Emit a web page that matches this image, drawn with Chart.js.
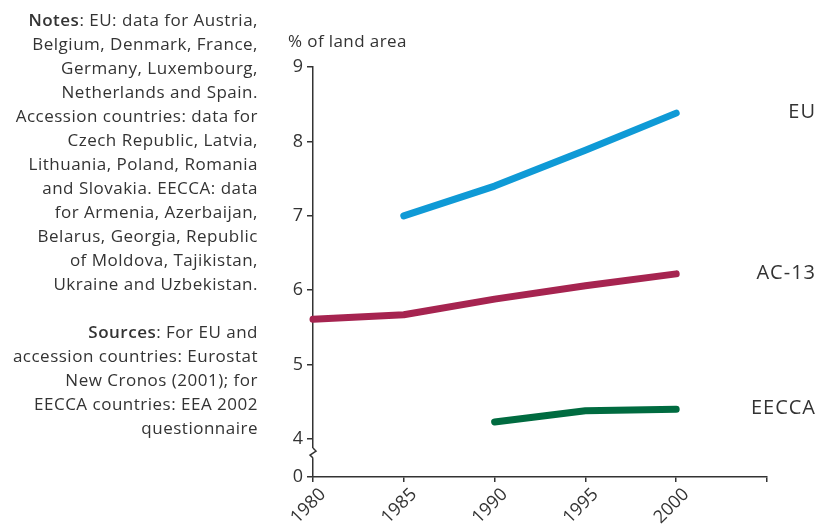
<!DOCTYPE html>
<html>
<head>
<meta charset="utf-8">
<script src="https://cdn.jsdelivr.net/npm/chart.js@4/dist/chart.umd.min.js"></script>
<style>
    body { margin: 0; background: #fff; }
    #wrap { position: relative; width: 818px; height: 524px; }
    #chart { position: absolute; left: 0; top: 0; }
    #notes {
        position: absolute; left: 0; top: 8px; width: 258px; white-space: nowrap;
        text-align: right; font: 17px "Open Sans", sans-serif; letter-spacing: 0.5px;
        line-height: 24px; color: #333;
    }
    #notes b { font-weight: 600; }
</style>
</head>
<body>
<div id="wrap">
    <canvas id="chart" width="818" height="524"></canvas>
    <div id="notes">
        <b>Notes</b>: EU: data for Austria,<br>
        Belgium, Denmark, France,<br>
        Germany, Luxembourg,<br>
        Netherlands and Spain.<br>
        Accession countries: data for<br>
        Czech Republic, Latvia,<br>
        Lithuania, Poland, Romania<br>
        and Slovakia. EECCA: data<br>
        for Armenia, Azerbaijan,<br>
        Belarus, Georgia, Republic<br>
        of Moldova, Tajikistan,<br>
        Ukraine and Uzbekistan.<br>
        <br>
        <b>Sources</b>: For EU and<br>
        accession countries: Eurostat<br>
        New Cronos (2001); for<br>
        EECCA countries: EEA 2002<br>
        questionnaire
    </div>
</div>
<script>
var years = [1980, 1985, 1990, 1995, 2000];
var euValues = [null, 7.0, 7.4, 7.88, 8.38];
var ac13Values = [5.61, 5.67, 5.88, 6.06, 6.22];
var eeccaValues = [null, null, 4.23, 4.38, 4.40];
var yTicks = [4, 5, 6, 7, 8, 9];
var ZERO_POS = 3.49; // where "0" sits below the axis break

var FONT = '"Open Sans", sans-serif';
var INK = '#333';

function points(values) {
    var out = [];
    for (var i = 0; i < years.length; i++) {
        if (values[i] !== null) out.push({ x: years[i], y: values[i] });
    }
    return out;
}

function series(label, values, color) {
    return {
        label: label,
        data: points(values),
        borderColor: color,
        borderWidth: 7,
        borderCapStyle: 'round',
        borderJoinStyle: 'round',
        pointRadius: 0,
        tension: 0,
        clip: false
    };
}

/* end labels, axis title and the axis break */
var decorations = {
    id: 'decorations',
    afterDraw: function (chart) {
        var ctx = chart.ctx;
        var y = chart.scales.y;
        ctx.save();

        ctx.fillStyle = INK;
        ctx.font = '17px ' + FONT;
        ctx.letterSpacing = '0.4px';
        ctx.textAlign = 'left';
        ctx.textBaseline = 'middle';
        ctx.fillText('% of land area', 288, 42);

        ctx.font = '20px ' + FONT;
        ctx.letterSpacing = '1px';
        ctx.textAlign = 'right';
        chart.data.datasets.forEach(function (ds, i) {
            var meta = chart.getDatasetMeta(i);
            var last = meta.data[meta.data.length - 1];
            ctx.fillText(ds.label, 816, last.y - 1);
        });
        ctx.letterSpacing = '0px';

        // zigzag break on the y axis
        var x = chart.chartArea.left;
        var top = y.getPixelForValue(4);
        var bottom = y.getPixelForValue(ZERO_POS);
        var mid = top + (bottom - top) * 0.37;
        ctx.fillStyle = '#fff';
        ctx.fillRect(x - 3, mid - 5, 6, 10);
        ctx.strokeStyle = INK;
        ctx.lineWidth = 1.5;
        ctx.beginPath();
        ctx.moveTo(x, mid - 5);
        ctx.lineTo(x + 3, mid - 2);
        ctx.lineTo(x - 3, mid + 2);
        ctx.lineTo(x, mid + 5);
        ctx.stroke();

        ctx.restore();
    }
};

new Chart(document.getElementById('chart'), {
    type: 'line',
    data: {
        datasets: [
            series('EU', euValues, '#0f9ad6'),
            series('AC-13', ac13Values, '#a62450'),
            series('EECCA', eeccaValues, '#006b40')
        ]
    },
    options: {
        responsive: false,
        animation: false,
        layout: { padding: { left: 0, right: 51, top: 67, bottom: 0 } },
        plugins: { legend: { display: false }, tooltip: { enabled: false } },
        scales: {
            x: {
                type: 'linear',
                min: 1980,
                max: 2005,
                afterFit: function (s) { s.height = 47; },
                border: { color: INK, width: 1.5 },
                grid: { drawOnChartArea: false, drawTicks: true, tickLength: 5, color: INK, lineWidth: 1.5 },
                ticks: {
                    stepSize: 5,
                    minRotation: 45,
                    maxRotation: 45,
                    padding: 2,
                    labelOffset: 10,
                    color: INK,
                    font: { family: FONT, size: 18 },
                    callback: function (v) { return v === 2005 ? '' : String(v); }
                }
            },
            y: {
                min: ZERO_POS,
                max: 9,
                afterFit: function (s) { s.width = 313; },
                afterBuildTicks: function (s) {
                    s.ticks = [ZERO_POS].concat(yTicks).map(function (v) { return { value: v }; });
                },
                border: { color: INK, width: 1.5 },
                grid: { drawOnChartArea: false, drawTicks: true, tickLength: 6, color: INK, lineWidth: 1.5 },
                ticks: {
                    padding: 4,
                    color: INK,
                    font: { family: FONT, size: 18 },
                    callback: function (v) { return v < 4 ? '0' : String(v); }
                }
            }
        }
    },
    plugins: [decorations]
});
</script>
</body>
</html>
